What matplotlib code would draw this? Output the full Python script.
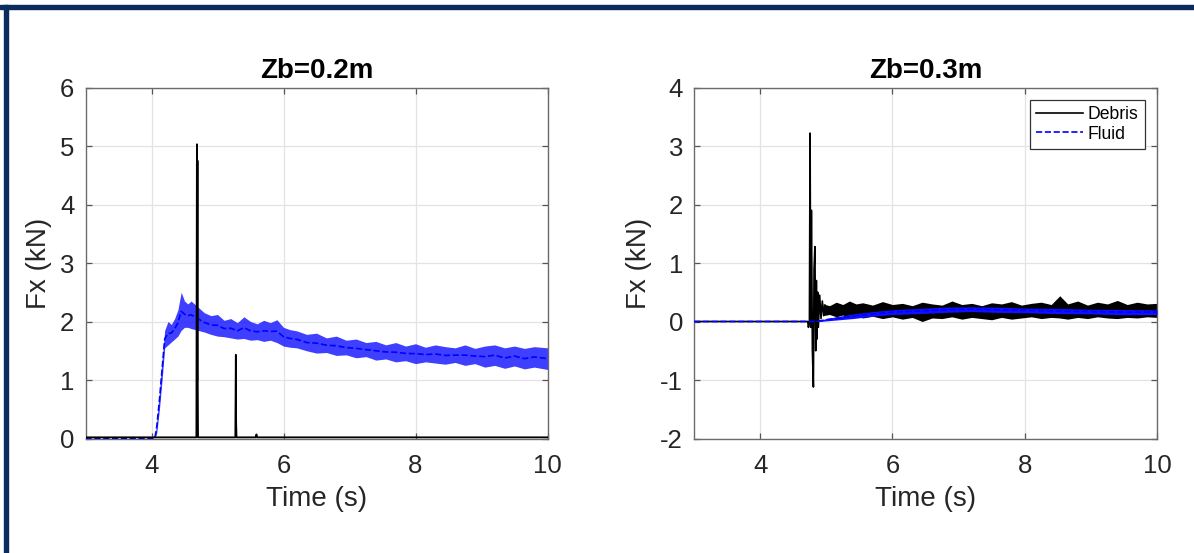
import numpy as np
import matplotlib
matplotlib.use("Agg")
import matplotlib.pyplot as plt
from matplotlib.patches import Rectangle

plt.rcParams['font.family'] = ['Liberation Sans', 'DejaVu Sans']
plt.rcParams['axes.unicode_minus'] = False

# ---- Zb = 0.2 m ----
fluid02_t = [3.0, 4.05, 4.08, 4.12, 4.16, 4.2, 4.25, 4.3, 4.35, 4.4, 4.45, 4.5, 4.55, 4.6,
             4.7, 4.8, 4.9, 5.0, 5.1, 5.2, 5.3, 5.4, 5.5, 5.6, 5.7, 5.8, 5.9, 6.0, 6.1, 6.2,
             6.35, 6.5, 6.65, 6.8, 6.95, 7.1, 7.25, 7.4, 7.55, 7.7, 7.85, 8.0, 8.15, 8.3,
             8.45, 8.6, 8.75, 8.9, 9.05, 9.2, 9.35, 9.5, 9.65, 9.8, 10.0]
fluid02_hi = [0.0, 0.0, 0.3, 0.8, 1.35, 1.85, 2.0, 1.95, 2.05, 2.2, 2.5, 2.35, 2.3, 2.35,
              2.25, 2.15, 2.1, 2.12, 2.02, 2.05, 1.98, 2.08, 2.0, 1.96, 2.02, 1.98, 2.03, 1.9,
              1.86, 1.84, 1.78, 1.8, 1.72, 1.75, 1.68, 1.7, 1.64, 1.66, 1.6, 1.64, 1.58, 1.62,
              1.56, 1.6, 1.57, 1.55, 1.6, 1.54, 1.58, 1.6, 1.55, 1.58, 1.54, 1.57, 1.55]
fluid02_lo = [0.0, 0.0, 0.1, 0.5, 1.0, 1.55, 1.6, 1.65, 1.7, 1.75, 1.85, 1.9, 1.9, 1.88,
              1.85, 1.82, 1.78, 1.75, 1.74, 1.72, 1.7, 1.71, 1.68, 1.69, 1.66, 1.68, 1.64, 1.58,
              1.56, 1.55, 1.5, 1.46, 1.47, 1.42, 1.43, 1.38, 1.4, 1.34, 1.36, 1.31, 1.33, 1.28,
              1.31, 1.29, 1.27, 1.3, 1.25, 1.28, 1.22, 1.25, 1.2, 1.24, 1.19, 1.22, 1.18]

debris02_t = [3.0, 4.68, 4.688, 4.692, 4.697, 4.70, 4.705, 5.27, 5.278, 5.282, 5.288,
              5.58, 5.59, 5.60, 10.0]
debris02_v = [0.02, 0.02, 5.03, 1.0, 4.75, 1.2, 0.02, 0.02, 1.43, 0.3, 0.02,
              0.02, 0.07, 0.02, 0.02]

# ---- Zb = 0.3 m ----
debris03_t = [3.0, 4.72, 4.73, 4.745, 4.755, 4.765, 4.775, 4.79, 4.805, 4.815, 4.828,
              4.84, 4.85, 4.86, 4.87, 4.88, 4.9, 4.92, 4.94, 4.96, 4.98]
debris03_v = [0.0, 0.0, -0.1, 0.0, 3.22, -0.1, 1.9, -0.5, -1.12, 0.9, 1.28,
              -0.5, 0.7, -0.3, 0.5, -0.1, 0.45, 0.05, 0.35, 0.1, 0.28]
debris03_band_t = [4.95, 5.05, 5.15, 5.25, 5.35, 5.45, 5.55, 5.7, 5.85, 6.0, 6.15, 6.3,
                   6.45, 6.6, 6.75, 6.9, 7.05, 7.2, 7.35, 7.5, 7.65, 7.8, 7.95, 8.1,
                   8.25, 8.4, 8.53, 8.65, 8.8, 8.95, 9.1, 9.25, 9.4, 9.55, 9.7, 9.85, 10.0]
debris03_hi = [0.3, 0.27, 0.33, 0.29, 0.35, 0.3, 0.32, 0.28, 0.34, 0.29, 0.31, 0.27,
               0.33, 0.3, 0.28, 0.35, 0.29, 0.31, 0.27, 0.32, 0.3, 0.34, 0.28, 0.31,
               0.33, 0.29, 0.44, 0.3, 0.35, 0.28, 0.33, 0.3, 0.36, 0.29, 0.33, 0.3, 0.31]
debris03_lo = [0.1, 0.12, 0.08, 0.11, 0.07, 0.1, 0.06, 0.09, 0.05, 0.08, 0.04, 0.07,
               0.0, 0.06, 0.05, 0.08, 0.04, 0.07, 0.05, 0.03, 0.07, 0.04, 0.06, 0.08,
               0.05, 0.07, 0.06, 0.04, 0.07, 0.05, 0.08, 0.06, 0.05, 0.07, 0.06, 0.08, 0.07]

fluid03_t = [3.0, 4.8, 4.9, 5.0, 5.2, 5.4, 5.7, 6.0, 6.4, 6.8, 7.2, 7.6, 8.0, 8.5, 9.0,
             9.5, 10.0]
fluid03_mid = [0.0, 0.0, 0.01, 0.03, 0.06, 0.09, 0.13, 0.16, 0.18, 0.2, 0.21, 0.2, 0.19,
               0.18, 0.17, 0.16, 0.16]
fluid03_half = [0.0, 0.0, 0.01, 0.02, 0.03, 0.04, 0.04, 0.04, 0.045, 0.045, 0.04, 0.045,
                0.04, 0.045, 0.04, 0.045, 0.04]

xticks = [4, 6, 8, 10]

fig = plt.figure(figsize=(11.94, 5.53), dpi=100)

# navy frame along top and left
fig.patches.append(Rectangle((0, 1 - 9 / 553), 1, 4 / 553, transform=fig.transFigure,
                             color='#0b2a5e', zorder=0))
fig.patches.append(Rectangle((4 / 1194, 0), 4 / 1194, 1 - 5 / 553, transform=fig.transFigure,
                             color='#0b2a5e', zorder=0))

ax1 = fig.add_axes([85.5 / 1194, 114.5 / 553, 462 / 1194, 351 / 553])
ax2 = fig.add_axes([694 / 1194, 114.5 / 553, 463 / 1194, 351 / 553])


def style(ax, ylim, yticks, title):
    ax.set_xlim(3, 10)
    ax.set_ylim(*ylim)
    ax.set_xticks(xticks)
    ax.set_yticks(yticks)
    ax.grid(True, color='#e3e3e3', lw=0.9)
    ax.set_axisbelow(True)
    for s in ax.spines.values():
        s.set_color('#6b6b6b')
        s.set_linewidth(1.0)
    ax.tick_params(direction='in', length=4, width=0.9, color='#555555',
                   top=True, right=True, labelsize=18.5, labelcolor='#262626')
    ax.tick_params(axis='x', pad=11)
    ax.tick_params(axis='y', pad=8)
    ax.set_xlabel('Time (s)', fontsize=20, color='#262626', labelpad=6)
    ax.set_ylabel('Fx (kN)', fontsize=20, color='#262626', labelpad=6)
    ax.set_title(title, fontsize=20, fontweight='bold', pad=7)


# left panel
mid02 = (np.array(fluid02_hi) + np.array(fluid02_lo)) / 2
ax1.fill_between(fluid02_t, fluid02_lo, fluid02_hi, color='#1414ff', alpha=0.82, lw=0, zorder=2)
ax1.plot(fluid02_t, mid02, color='blue', ls='--', lw=1.2, zorder=3)
ax1.plot(debris02_t, debris02_v, color='black', lw=1.3, zorder=4)
style(ax1, (0, 6), [0, 1, 2, 3, 4, 5, 6], 'Zb=0.2m')

# right panel
ax2.fill_between(debris03_band_t, debris03_lo, debris03_hi, color='black', lw=0, zorder=2)
ax2.plot(debris03_t, debris03_v, color='black', lw=1.2, zorder=2, label='Debris')
f_mid = np.array(fluid03_mid)
f_half = np.array(fluid03_half)
ax2.fill_between(fluid03_t, f_mid - f_half, f_mid + f_half, color='#1010ff', lw=0, zorder=3)
ax2.plot(fluid03_t, fluid03_mid, color='blue', ls='--', lw=1.2, zorder=3, label='Fluid')
style(ax2, (-2, 4), [-2, -1, 0, 1, 2, 3, 4], 'Zb=0.3m')

leg = ax2.legend(loc='upper right', fontsize=12.7, handlelength=2.7, handletextpad=0.25,
                 borderaxespad=0.7, borderpad=0.35, labelspacing=0.15, fancybox=False,
                 framealpha=1)
leg.get_frame().set_edgecolor('#333333')
leg.get_frame().set_linewidth(0.9)

fig.savefig('out.png', dpi=100)
